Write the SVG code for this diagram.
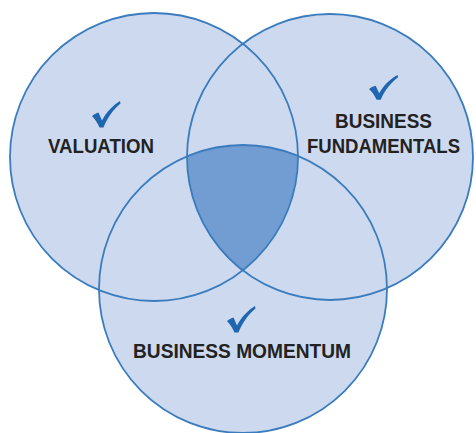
<svg xmlns="http://www.w3.org/2000/svg" xmlns:xlink="http://www.w3.org/1999/xlink" width="476" height="433" viewBox="0 0 476 433">
  <style>
    .fill { fill: #cdd9ee; stroke: none; }
    .ring { fill: none; stroke: #3a7cbd; stroke-width: 1.8; }
    .core { fill: #729dd2; stroke: none; }
    .lbl { font-family: "Liberation Sans", Arial, sans-serif; font-weight: bold; font-size: 20px; fill: #222222; text-anchor: middle; }
    .chk { fill: #1f66b0; }
  </style>
  <defs>
    <path id="check" d="M0,15 C2.5,13 4.5,12 6.5,11.5 L10,19.5 C15,10 21,4.5 28,0 L28.5,2.5 C21,9 15.5,16.5 11.5,26.5 L7.5,26.5 C5.5,22 3,18 0,15 Z"/>
  </defs>
  <rect width="476" height="433" fill="#ffffff"/>
  <g id="fills">
    <circle class="fill" cx="154" cy="157" r="144"/>
    <circle class="fill" cx="330" cy="157" r="143"/>
    <circle class="fill" cx="243" cy="289" r="144"/>
  </g>
  <g id="intersection">
    <path class="core" d="M187.5,156 A144,144 0 0 1 297.5,156 A144,144 0 0 1 242,271 A143,143 0 0 1 187.5,156 Z"/>
  </g>
  <g id="valuation">
    <circle class="ring" cx="154" cy="157" r="144"/>
    <use href="#check" xlink:href="#check" class="chk" transform="translate(92,101)"/>
    <text class="lbl" x="101" y="153" textLength="106" lengthAdjust="spacingAndGlyphs">VALUATION</text>
  </g>
  <g id="business-fundamentals">
    <circle class="ring" cx="330" cy="157" r="143"/>
    <use href="#check" xlink:href="#check" class="chk" transform="translate(369,75) scale(1.02,0.93)"/>
    <text class="lbl" x="383.5" y="128" textLength="97" lengthAdjust="spacingAndGlyphs">BUSINESS</text>
    <text class="lbl" x="383.5" y="153" textLength="153" lengthAdjust="spacingAndGlyphs">FUNDAMENTALS</text>
  </g>
  <g id="business-momentum">
    <circle class="ring" cx="243" cy="289" r="144"/>
    <use href="#check" xlink:href="#check" class="chk" transform="translate(227,306)"/>
    <text class="lbl" x="242" y="358" textLength="218" lengthAdjust="spacingAndGlyphs">BUSINESS MOMENTUM</text>
  </g>
</svg>
